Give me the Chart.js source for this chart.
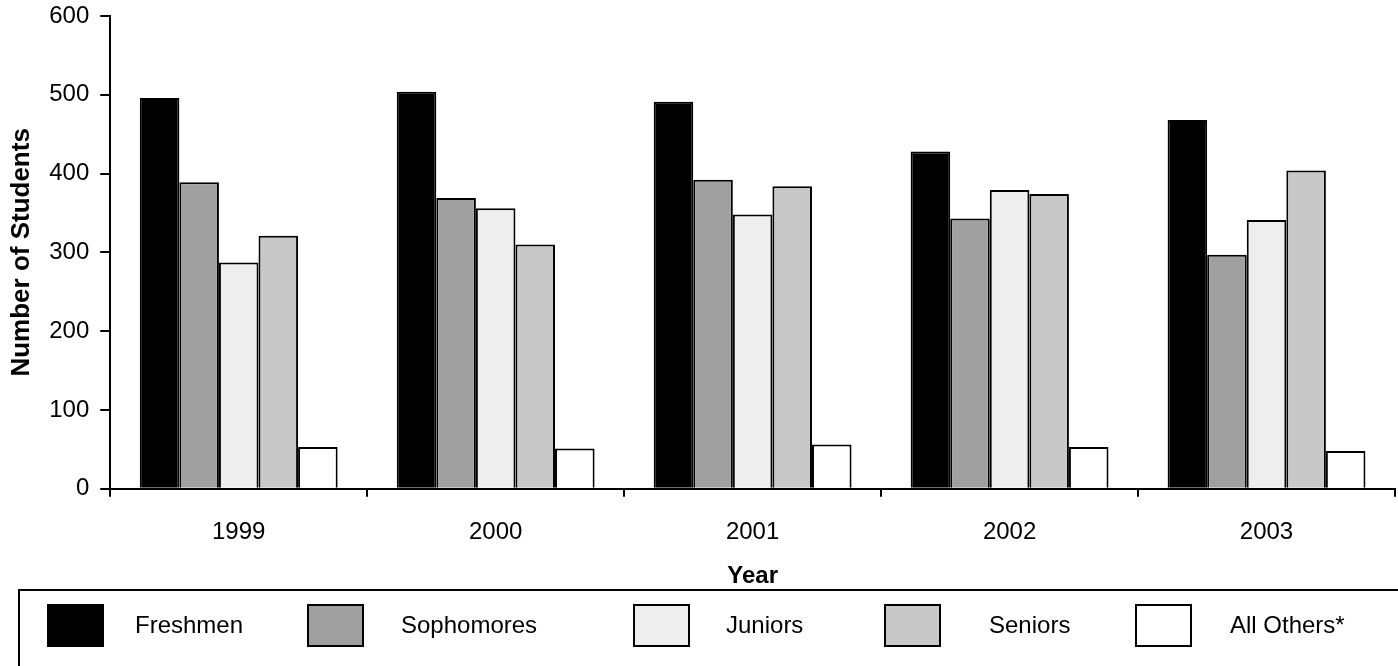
<!DOCTYPE html>
<html>
<head>
<meta charset="utf-8">
<title>Number of Students by Year</title>
<script src="https://cdn.jsdelivr.net/npm/chart.js@4.4.1/dist/chart.umd.min.js"></script>
<style>
  html, body { margin: 0; padding: 0; background: #ffffff; }
  #wrap { width: 1398px; height: 666px; position: relative; }
</style>
</head>
<body>
<div id="wrap"><canvas id="chart" width="1398" height="666"></canvas></div>
<script>
// Enrollment by class standing, per academic year
const years = ['1999', '2000', '2001', '2002', '2003'];
const freshmen   = [496, 504, 491, 428, 468];
const sophomores = [389, 369, 392, 343, 297];
const juniors    = [287, 356, 348, 379, 341];
const seniors    = [321, 310, 384, 374, 404];
const allOthers  = [53, 51, 56, 53, 48];

const seriesNames  = ['Freshmen', 'Sophomores', 'Juniors', 'Seniors', 'All Others*'];
const seriesColors = ['#000000', '#a0a0a0', '#eeeeee', '#c8c8c8', '#ffffff'];
const seriesValues = [freshmen, sophomores, juniors, seniors, allOthers];

const yTicks = [0, 100, 200, 300, 400, 500, 600];

const FONT = "'Liberation Sans', Arial, Helvetica, sans-serif";

// Boxed legend along the bottom edge, one swatch + label per dataset
const boxedLegend = {
  id: 'boxedLegend',
  afterDraw(chart, args, opts) {
    const ctx = chart.ctx;
    ctx.save();
    ctx.lineWidth = 2;
    ctx.strokeStyle = '#000000';
    ctx.strokeRect(opts.left, opts.top, chart.width - opts.left + 10, chart.height - opts.top + 10);
    ctx.font = '24px ' + FONT;
    ctx.textBaseline = 'middle';
    ctx.textAlign = 'left';
    chart.data.datasets.forEach((ds, i) => {
      const x = opts.swatchX[i];
      ctx.fillStyle = ds.backgroundColor;
      ctx.fillRect(x, opts.swatchTop, opts.swatchW, opts.swatchH);
      ctx.strokeRect(x, opts.swatchTop, opts.swatchW, opts.swatchH);
      ctx.fillStyle = '#000000';
      ctx.fillText(ds.label, opts.textX[i], opts.swatchTop + opts.swatchH / 2 + 1);
    });
    ctx.restore();
  }
};

new Chart(document.getElementById('chart'), {
  type: 'bar',
  data: {
    labels: years,
    datasets: seriesNames.map((name, i) => ({
      label: name,
      data: seriesValues[i],
      backgroundColor: seriesColors[i],
      borderColor: '#000000',
      borderWidth: 2,
      borderSkipped: 'start',
      categoryPercentage: 0.77,
      barPercentage: 1.0
    }))
  },
  options: {
    responsive: false,
    animation: false,
    devicePixelRatio: 1,
    layout: { padding: { left: 2, right: 3, top: 16, bottom: 71 } },
    plugins: {
      legend: { display: false },
      tooltip: { enabled: false },
      boxedLegend: {
        left: 19, top: 590,
        swatchTop: 605, swatchW: 55, swatchH: 41,
        swatchX: [48, 308, 634, 885, 1136],
        textX: [135, 401, 726, 989, 1230]
      }
    },
    scales: {
      x: {
        offset: true,
        grid: {
          offset: true,
          drawOnChartArea: false,
          drawTicks: true,
          tickLength: 8,
          color: '#000000',
          lineWidth: 2
        },
        border: { display: true, color: '#000000', width: 2 },
        ticks: {
          color: '#000000',
          padding: 28.5,
          font: { family: FONT, size: 24, lineHeight: 0.625 }
        },
        title: {
          display: true,
          text: 'Year',
          color: '#000000',
          padding: { top: -6.5, bottom: 4 },
          font: { family: FONT, size: 24, weight: 'bold' }
        }
      },
      y: {
        min: 0,
        max: 600,
        afterBuildTicks(scale) { scale.ticks = yTicks.map(v => ({ value: v })); },
        afterFit(scale) { scale.paddingTop = 0; },
        grid: {
          drawOnChartArea: false,
          drawTicks: true,
          tickLength: 10,
          color: '#000000',
          lineWidth: 2
        },
        border: { display: true, color: '#000000', width: 2 },
        ticks: {
          color: '#000000',
          padding: 11,
          font: { family: FONT, size: 24 }
        },
        title: {
          display: true,
          text: 'Number of Students',
          color: '#000000',
          padding: { top: 4, bottom: 1 },
          font: { family: FONT, size: 26, weight: 'bold' }
        }
      }
    }
  },
  plugins: [boxedLegend]
});
</script>
</body>
</html>
